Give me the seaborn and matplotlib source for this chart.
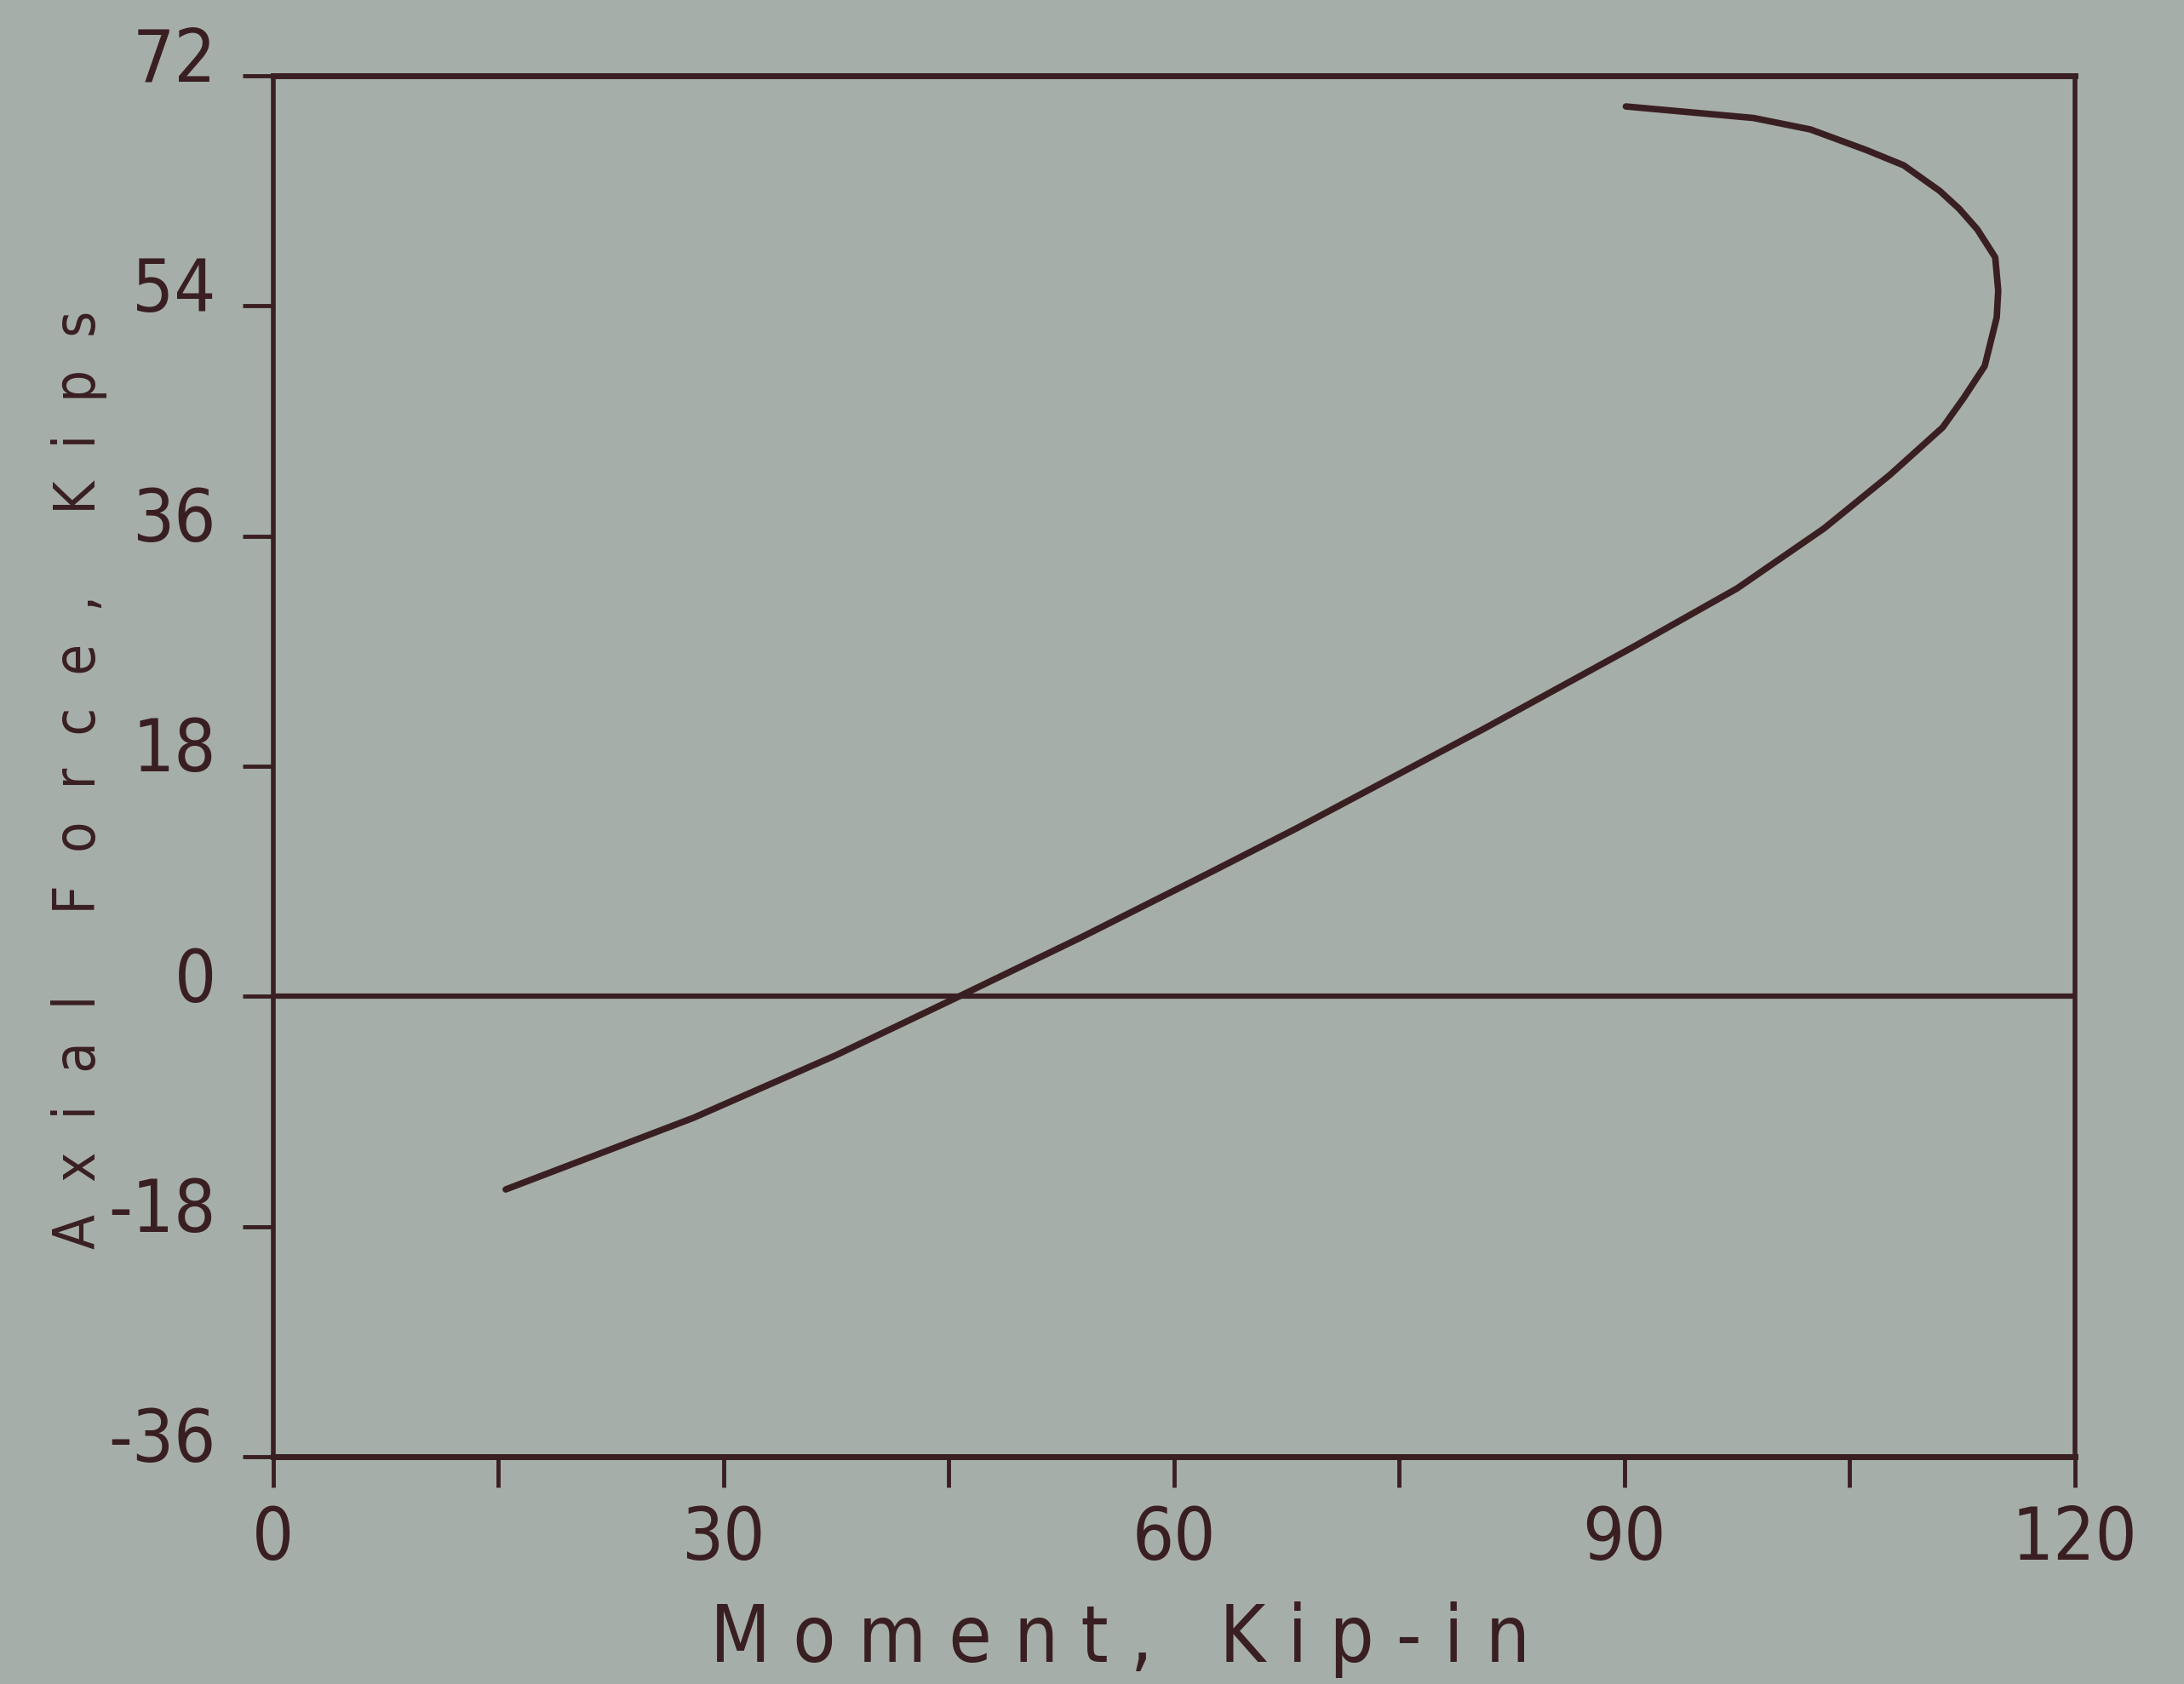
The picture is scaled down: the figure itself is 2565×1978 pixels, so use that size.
import matplotlib
matplotlib.use("Agg")
import matplotlib.pyplot as plt
import matplotlib.transforms as mtransforms
import seaborn as sns
import pandas as pd

# Interaction curve (Moment, Kip-in vs Axial Force, Kips)
moment = [15.5, 28, 37.5, 45.7, 53.8, 62.6, 68.1, 80.6, 90.7, 97.5, 103.3,
          107.7, 111.2, 112.6, 114.0, 114.8, 114.9, 114.7, 113.5, 112.3,
          111.0, 108.6, 106.1, 102.4, 98.6, 90.1]
axial = [-15.1, -9.5, -4.6, 0, 4.6, 9.8, 13.1, 20.9, 27.4, 31.9, 36.6,
         40.8, 44.5, 46.8, 49.3, 53.1, 55.2, 57.8, 60.0, 61.6,
         63.0, 65.0, 66.2, 67.8, 68.7, 69.6]

# zero-force reference line
zero_x = [0, 120]
zero_y = [0, 0]

x_ticks = [0, 15, 30, 45, 60, 75, 90, 105, 120]
x_ticklabels = ["0", "", "30", "", "60", "", "90", "", "120"]
y_ticks = [-36, -18, 0, 18, 36, 54, 72]
y_ticklabels = ["-36", "-18", "0", "18", "36", "54", "72"]

x_label = "M o m e n t ,   K i p - i n"
y_label = "A  x  i  a  l     F  o  r  c  e  ,     K  i  p  s"

sns.set_theme(style="ticks")
plt.rcParams['font.family'] = ['DejaVu Sans']
plt.rcParams['font.stretch'] = 'condensed'

paper = "#a6aea9"
ink = "#3a1f22"

fig = plt.figure(figsize=(25.65, 19.78), dpi=100, facecolor=paper)
ax = fig.add_axes([0.125, 0.135, 0.825, 0.82])
ax.set_facecolor(paper)

curve = pd.DataFrame({"Moment": moment, "Axial": axial})
sns.lineplot(data=curve, x="Moment", y="Axial", sort=False, estimator=None,
             color=ink, linewidth=5.5, ax=ax)
zero = pd.DataFrame({"Moment": zero_x, "Axial": zero_y})
sns.lineplot(data=zero, x="Moment", y="Axial", sort=False, estimator=None,
             color=ink, linewidth=4.5, ax=ax)

ax.set_xlim(0, 120)
ax.set_ylim(-36, 72)
ax.set_xticks(x_ticks)
ax.set_xticklabels(x_ticklabels)
ax.set_yticks(y_ticks)
ax.set_yticklabels(y_ticklabels)
ax.tick_params(axis="both", direction="out", length=26, width=3.5,
               color=ink, labelcolor=ink, labelsize=62, pad=14)
ax.tick_params(axis="y", pad=22)

# y tick labels sit a little above their ticks in the reference
shift = mtransforms.ScaledTranslation(0, 0.26, fig.dpi_scale_trans)
for lab in ax.get_yticklabels():
    lab.set_transform(lab.get_transform() + shift)

for side in ["left", "right", "top", "bottom"]:
    ax.spines[side].set_visible(True)
    ax.spines[side].set_color(ink)
    ax.spines[side].set_linewidth(4)
ax.spines["top"].set_linewidth(5)
ax.spines["bottom"].set_linewidth(5)

ax.set_xlabel(x_label, fontsize=66, color=ink)
ax.xaxis.set_label_coords(0.47, -0.105)
ax.set_ylabel(y_label, fontsize=48, color=ink)
ax.yaxis.set_label_coords(-0.092, 0.49)

fig.savefig("out.png", dpi=100, facecolor=paper)
